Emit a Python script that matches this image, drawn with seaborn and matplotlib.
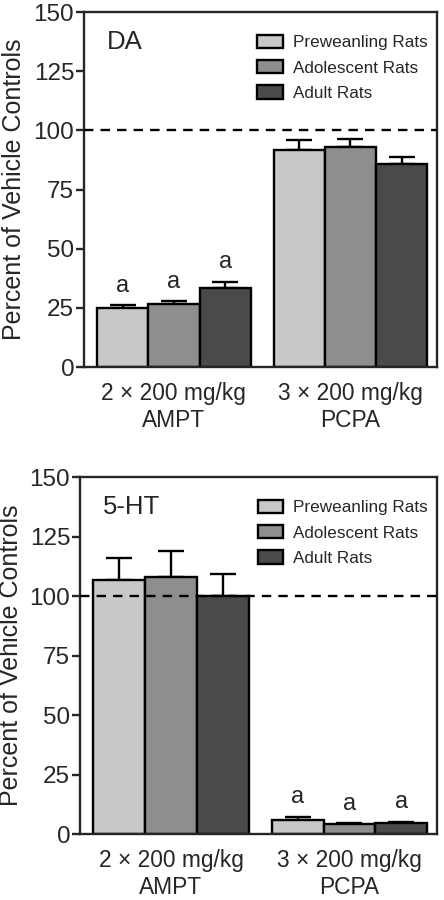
import matplotlib
matplotlib.use("Agg")
import matplotlib.pyplot as plt
import seaborn as sns
import pandas as pd
import numpy as np

groups = ["2 \u00d7 200 mg/kg\nAMPT", "3 \u00d7 200 mg/kg\nPCPA"]
ages = ["Preweanling Rats", "Adolescent Rats", "Adult Rats"]
colors = ["#c8c8c8", "#8e8e8e", "#4a4a4a"]

# values per age group, order: AMPT, PCPA
da_means = {"Preweanling Rats": [24.9, 91.8], "Adolescent Rats": [26.6, 92.9], "Adult Rats": [33.5, 85.8]}
da_sem = {"Preweanling Rats": [1.3, 4.1], "Adolescent Rats": [1.3, 3.4], "Adult Rats": [2.6, 2.9]}
ht_means = {"Preweanling Rats": [106.9, 5.9], "Adolescent Rats": [108.0, 4.2], "Adult Rats": [99.9, 4.8]}
ht_sem = {"Preweanling Rats": [9.1, 1.4], "Adolescent Rats": [10.9, 0.3], "Adult Rats": [9.5, 0.4]}

da_sig = [[True, False], [True, False], [True, False]]
ht_sig = [[False, True], [False, True], [False, True]]

panel_labels = ["DA", "5-HT"]

sns.set_style("ticks")
plt.rcParams["font.family"] = ["Liberation Sans", "DejaVu Sans"]


def make_df(means, sems):
    rows = []
    for age in ages:
        for g, m, s in zip(groups, means[age], sems[age]):
            rows.append({"group": g, "age": age, "value": m, "sem": s})
    return pd.DataFrame(rows)


fig = plt.figure(figsize=(4.44, 9.0), dpi=100)
ax1 = fig.add_axes([0.189, 0.5922, 0.795, 0.3944])
ax2 = fig.add_axes([0.180, 0.0733, 0.804, 0.3967])

for ax, means, sems, sig, label in [(ax1, da_means, da_sem, da_sig, panel_labels[0]),
                                    (ax2, ht_means, ht_sem, ht_sig, panel_labels[1])]:
    df = make_df(means, sems)
    sns.barplot(data=df, x="group", y="value", hue="age", hue_order=ages, order=groups,
                palette=colors, width=0.87, errorbar=None, edgecolor="black", linewidth=1.7,
                ax=ax, zorder=2)
    # error bars (upper only) and significance letters
    for i, age in enumerate(ages):
        bars = ax.containers[i]
        for j, rect in enumerate(bars):
            xc = rect.get_x() + rect.get_width() / 2
            h = rect.get_height()
            s = sems[age][j]
            ax.errorbar(xc, h, yerr=[[0], [s]], fmt="none", ecolor="black",
                        elinewidth=1.7, capsize=9.5, capthick=1.7, zorder=1)
            if sig[i][j]:
                ax.text(xc, h + s + 3.5, "a", ha="center", va="bottom", fontsize=17)
    ax.axhline(100, color="black", linestyle=(0, (4, 3)), linewidth=1.7, zorder=3)
    ax.set_ylim(0, 150)
    ax.set_xlim(-0.51, 1.49)
    ax.set_yticks([0, 25, 50, 75, 100, 125, 150])
    ax.tick_params(axis="y", labelsize=17.5, width=1.7, length=6, direction="out", pad=1)
    ax.tick_params(axis="x", labelsize=16.4, length=0, pad=11)
    ax.set_xlabel("")
    ax.set_ylabel("Percent of Vehicle Controls", fontsize=18, labelpad=5)
    for sp in ax.spines.values():
        sp.set_linewidth(1.7)
        sp.set_visible(True)
    ax.text(0.065, 0.915, label, transform=ax.transAxes, fontsize=18.5, ha="left", va="center")
    ax.legend(loc="upper right", frameon=False, fontsize=12.3, handlelength=1.5,
              handleheight=0.85, handletextpad=0.6, labelspacing=0.55,
              bbox_to_anchor=(1.009, 0.97), borderaxespad=0.3)

fig.savefig("out.png", dpi=100)
